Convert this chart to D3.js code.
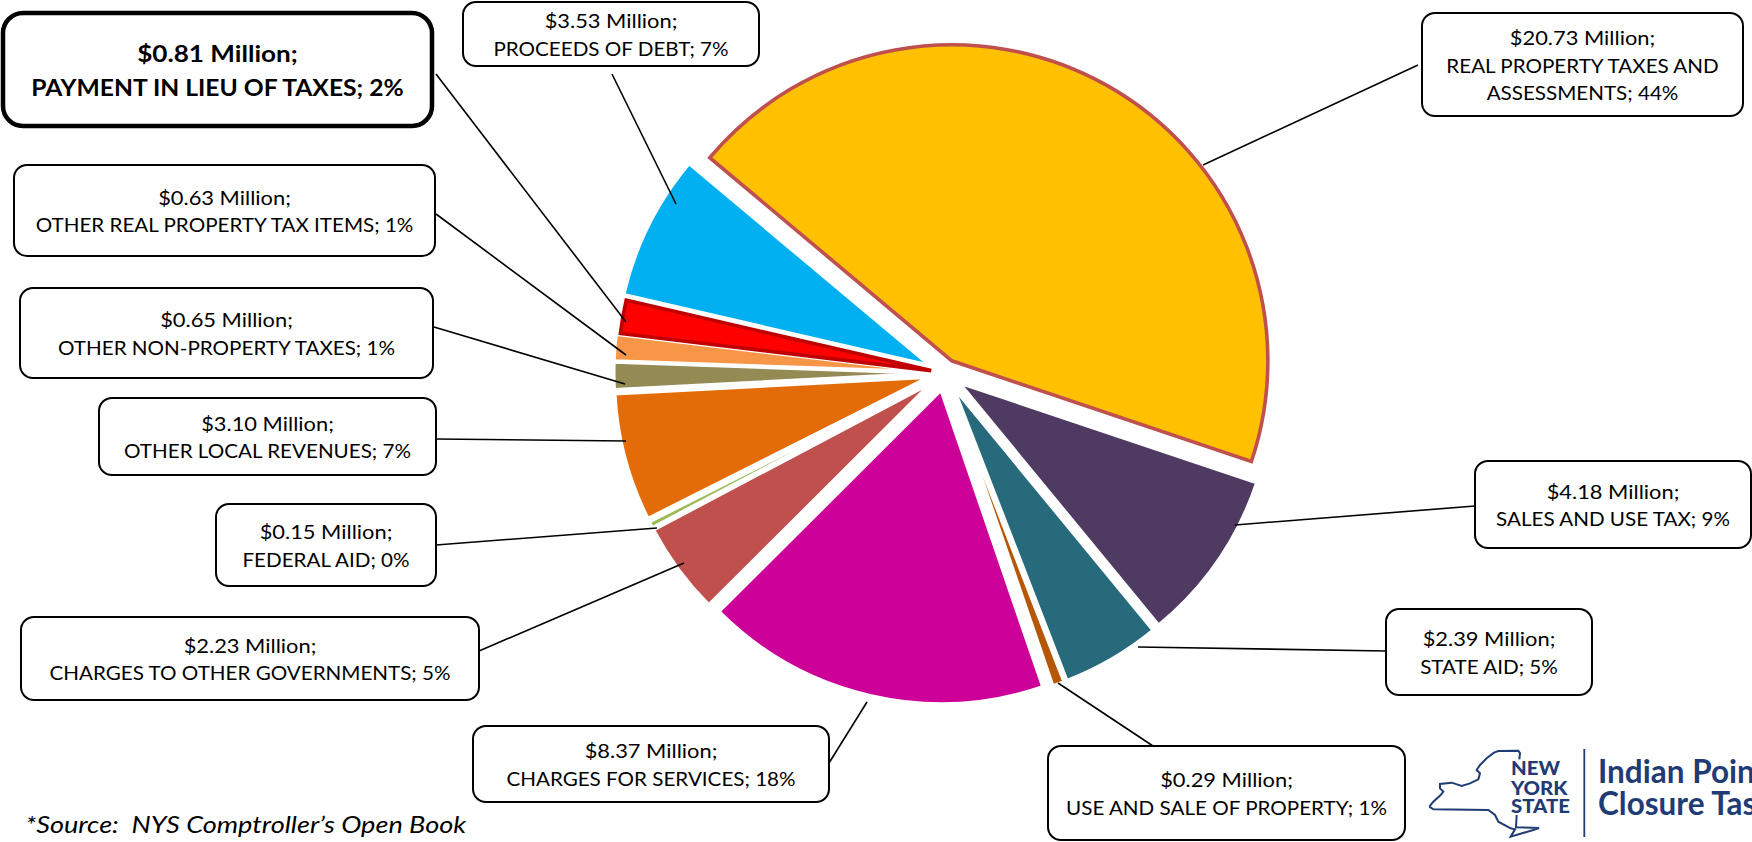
<!DOCTYPE html>
<html><head><meta charset="utf-8">
<script src="https://cdn.jsdelivr.net/npm/d3@7/dist/d3.min.js"></script>
<style>html,body{margin:0;padding:0;background:#fff;overflow:hidden}svg{display:block}text{font-family:Lato,Carlito,sans-serif}</style>
</head><body><svg id="c" width="1752" height="842"></svg>
<script>
// ---- data ----
const categories = ["REAL PROPERTY TAXES AND ASSESSMENTS","SALES AND USE TAX","STATE AID","USE AND SALE OF PROPERTY","CHARGES FOR SERVICES","CHARGES TO OTHER GOVERNMENTS","FEDERAL AID","OTHER LOCAL REVENUES","OTHER NON-PROPERTY TAXES","OTHER REAL PROPERTY TAX ITEMS","PAYMENT IN LIEU OF TAXES","PROCEEDS OF DEBT"];
const millions = [20.73,4.18,2.39,0.29,8.37,2.23,0.15,3.10,0.65,0.63,0.81,3.53];
const percents = [44,9,5,1,18,5,0,7,1,1,2,7];
// ---- style ----
const fills = ["#FFC000","#4F3B62","#276A7C","#B65708","#CC0099","#C0504D","#9BBB59","#E36C09","#948A54","#F79646","#FF0000","#00B0F0"];
const strokes = ["#C0504D","#fff","#fff","#fff","#fff","#fff","#fff","#fff","#fff","#fff","#C00000","#fff"];
const strokeWidths = [3.6,3,3,3.6,3,3,3,3,3,3,3.6,3];
const explodes = [14,18,18,18,18,18,18,18,18,18,14,18];
const radii = [316,313,313,313,313,313,313,313,313,313,313,313];
const cx=945, cy=373, startDeg=-50;
// ---- label layout: box x0,y0,x1,y1; leader from (a,b) to (c,d); title lines ----
const boxes = [
 [1422,13,1743,116],[1475,461,1751,548],[1386,609,1592,695],[1048,746,1405,840],[473,726,829,802],[21,617,479,700],
 [216,504,436,586],[99,398,436,475],[20,288,433,378],[14,165,435,256],[3,13,432,126],[463,2,759,66]];
const leaders = [
 [1418,65,1203,165],[1475,506,1235,525],[1386,651,1138,647],[1153,746,1058,683],[829,763,867,702],[479,651,684,563],
 [436,545,657,528],[436,439,626,441],[434,327,625,384],[436,214,626,355],[436,74,626,322],[612,74,676,204]];
const lines = [
 ["REAL PROPERTY TAXES AND","ASSESSMENTS; 44%"],["SALES AND USE TAX; 9%"],["STATE AID; 5%"],["USE AND SALE OF PROPERTY; 1%"],["CHARGES FOR SERVICES; 18%"],["CHARGES TO OTHER GOVERNMENTS; 5%"],
 ["FEDERAL AID; 0%"],["OTHER LOCAL REVENUES; 7%"],["OTHER NON-PROPERTY TAXES; 1%"],["OTHER REAL PROPERTY TAX ITEMS; 1%"],["PAYMENT IN LIEU OF TAXES; 2%"],["PROCEEDS OF DEBT; 7%"]];
const highlighted = 10;

const svg = d3.select("#c");
const pie = d3.pie().value(d=>d).sort(null).startAngle(startDeg*Math.PI/180).endAngle((startDeg+360)*Math.PI/180);
const arc = d3.arc().innerRadius(0).outerRadius((d,i)=>d.r);
const arcs = pie(millions).map((d,i)=>({...d,r:radii[i]}));
svg.append("g").selectAll("path").data(arcs).join("path")
  .attr("d",d=>arc(d))
  .attr("transform",(d,i)=>{const m=(d.startAngle+d.endAngle)/2,e=explodes[i];return `translate(${cx+e*Math.sin(m)},${cy-e*Math.cos(m)})`;})
  .attr("fill",(d,i)=>fills[i]).attr("stroke",(d,i)=>strokes[i]).attr("stroke-width",(d,i)=>strokeWidths[i]).attr("stroke-linejoin","miter").attr("stroke-miterlimit",4);

svg.append("g").selectAll("line").data(leaders).join("line")
  .attr("x1",d=>d[0]).attr("y1",d=>d[1]).attr("x2",d=>d[2]).attr("y2",d=>d[3]).attr("stroke","#000").attr("stroke-width",1.6);

const g = svg.append("g").selectAll("g").data(categories).join("g");
g.append("rect").attr("x",(d,i)=>boxes[i][0]).attr("y",(d,i)=>boxes[i][1])
 .attr("width",(d,i)=>boxes[i][2]-boxes[i][0]).attr("height",(d,i)=>boxes[i][3]-boxes[i][1])
 .attr("rx",(d,i)=>i==highlighted?20:13).attr("fill","#fff").attr("stroke","#000").attr("stroke-width",(d,i)=>i==highlighted?4.5:2);
g.each(function(d,i){
  const b=boxes[i], hl=i==highlighted, fs=hl?22.3:18.5, lh=hl?34:27.8, sx=hl?1.105:1.115;
  const all=["$"+millions[i].toFixed(2)+" Million;",...lines[i]];
  const mid=(b[0]+b[2])/2, c=(b[1]+b[3])/2, y0=c-lh*(all.length-1)/2+(hl?9.5:8);
  const t=d3.select(this);
  all.forEach((s,k)=>t.append("text").attr("transform",`translate(${mid},${y0+k*lh}) scale(${k==0?sx*1.06:sx},1)`).attr("text-anchor","middle")
    .attr("font-size",fs).attr("font-weight",hl?700:400).attr("fill","#000").text(s));
});

svg.append("text").attr("transform","translate(25.5,832.7) scale(1.13,1)").attr("font-size",24).attr("font-style","italic").attr("xml:space","preserve").style("white-space","pre").text("*Source:  NYS Comptroller’s Open Book");

// logo
const navy="#1F3C74";
const logoTop=[[28,200],[40,185],[62,165],[70,155],[60,145],[60,132],[95,128],[125,138],[150,130],[175,118],[180,100],[170,90],[180,75],[200,55],[222,38],[235,33],[295,32],[300,40],[298,58]];
const logoBottom=[[290,225],[288,262],[357,264],[340,270],[272,290],[285,268],[272,265],[235,245],[225,225],[205,210],[40,208],[28,200]];
const lg=d3.line().x(d=>1420+d[0]/3).y(d=>740+d[1]/3);
[logoTop,logoBottom].forEach(p=>svg.append("path").attr("d",lg(p)).attr("fill","none").attr("stroke",navy).attr("stroke-width",2));
[["NEW",775],["YORK",795],["STATE",813]].forEach(a=>svg.append("text").attr("transform",`translate(1511,${a[1]}) scale(1.1,1)`).attr("font-size",18.5).attr("font-weight",900).attr("fill",navy).text(a[0]));
svg.append("line").attr("x1",1584.3).attr("x2",1584.3).attr("y1",749).attr("y2",837).attr("stroke",navy).attr("stroke-width",1.8);
[["Indian Poin",782.7],["Closure Tas",815]].forEach(a=>svg.append("text").attr("x",1598).attr("y",a[1]).attr("font-size",31.5).attr("font-weight",700).attr("fill",navy).text(a[0]));
</script></body></html>
